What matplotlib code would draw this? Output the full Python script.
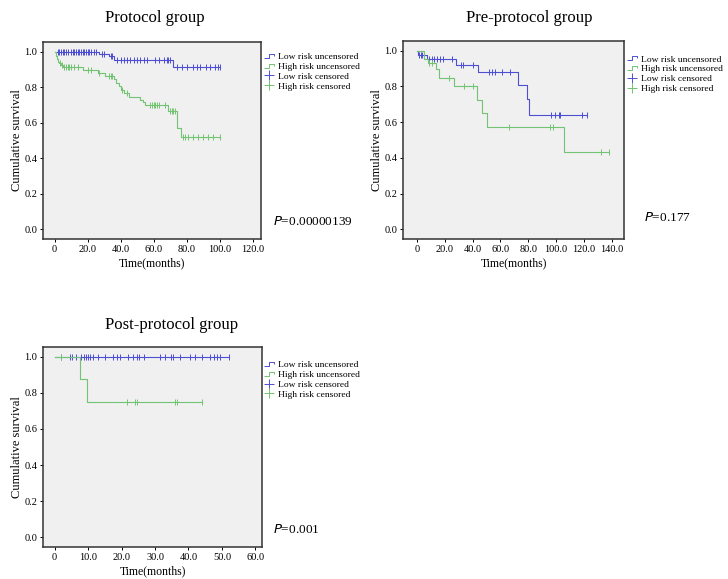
import numpy as np
import matplotlib
matplotlib.use("Agg")
import matplotlib.pyplot as plt
from matplotlib.lines import Line2D
from matplotlib.path import Path

plt.rcParams['font.family'] = ['Liberation Serif', 'DejaVu Serif']

# ---- Protocol group ----
p_low_t = [0, 27, 33, 36, 72]
p_low_s = [1.0, 0.985, 0.975, 0.955, 0.915]
p_low_end = 100
p_low_cens = [2, 3, 4, 5, 6, 7, 8, 10, 11, 12, 13, 14, 15, 16, 17, 18, 19, 20, 21, 22, 24, 25,
              29, 30, 34, 35, 38, 40, 42, 44, 46, 48, 50, 52, 54, 56, 61, 63, 66, 68, 69, 70,
              74, 77, 80, 84, 86, 88, 92, 94, 97, 99, 100]
p_high_t = [0, 1, 1.5, 2, 3, 4, 5, 17, 26.5, 30.5, 36, 37.5, 39, 40.5, 42, 45, 52, 53.5, 55, 69, 74.4, 76.4]
p_high_s = [1.0, 0.975, 0.96, 0.945, 0.935, 0.925, 0.912, 0.897, 0.878, 0.862, 0.845, 0.825,
            0.805, 0.786, 0.765, 0.745, 0.73, 0.715, 0.70, 0.667, 0.57, 0.52]
p_high_end = 100
p_high_cens = [3.5, 4.5, 6, 7, 8, 9, 10, 12, 14, 20, 22, 27, 33, 34, 35, 41, 44, 58, 59, 60, 61,
               62, 63, 67, 70, 71, 72, 73, 78, 79, 81, 84, 87, 90, 93, 96, 100]

# ---- Pre-protocol group ----
pre_low_t = [0, 1, 7, 28, 44, 73, 79.5, 80.5]
pre_low_s = [1.0, 0.974, 0.955, 0.92, 0.88, 0.809, 0.73, 0.64]
pre_low_end = 122
pre_low_cens = [1.6, 2.8, 4, 5.2, 8.5, 11, 12.6, 14.5, 16.5, 18.6, 25.3, 31.5, 33, 40,
                52, 54, 56, 61.5, 67, 96.5, 99, 102, 103, 119, 122]
pre_high_t = [0, 5, 8, 14, 16, 26.5, 43, 47, 50.5, 106]
pre_high_s = [1.0, 0.955, 0.93, 0.90, 0.85, 0.80, 0.725, 0.65, 0.575, 0.43]
pre_high_end = 138
pre_high_cens = [9, 11, 23, 34, 40, 66.5, 96, 98, 132.5, 138]

# ---- Post-protocol group ----
post_low_t = [0]
post_low_s = [1.0]
post_low_end = 52
post_low_cens = [2, 4.5, 5.3, 6.3, 8, 8.7, 9.3, 10, 10.5, 11.5, 13, 15, 17.5, 18.5, 19.5, 22,
                 23.5, 24.7, 25.3, 26.7, 31.5, 33, 34.7, 35.3, 37.5, 40.5, 42, 44, 46.5, 47.5,
                 48.5, 49.5, 52]
post_high_t = [0, 7.5, 9.7]
post_high_s = [1.0, 0.875, 0.75]
post_high_end = 44
post_high_cens = [2, 21.5, 24, 24.5, 36, 36.5, 44]

BLUE = '#4e4ed4'
GREEN = '#72c472'
legend_labels = ['Low risk uncensored', 'High risk uncensored', 'Low risk censored', 'High risk censored']


def step_value(t, s, x):
    idx = np.searchsorted(np.asarray(t), np.asarray(x), side='right') - 1
    return np.asarray(s)[idx]


def km_curve(ax, t, s, end, cens, color):
    xs = list(t) + [end]
    ys = list(s) + [s[-1]]
    ax.step(xs, ys, where='post', color=color, lw=0.8)
    ax.plot(cens, step_value(t, s, cens), ls='none', marker='|', ms=4.5, mew=0.7, color=color)


step_icon = Path([(-1, -0.5), (0, -0.5), (0, 0.5), (1, 0.5), (1, 0.1)],
                 [Path.MOVETO, Path.LINETO, Path.LINETO, Path.LINETO, Path.LINETO])
handles = [
    Line2D([], [], ls='none', marker=step_icon, ms=7, mfc='none', mec=BLUE, mew=0.7),
    Line2D([], [], ls='none', marker=step_icon, ms=7, mfc='none', mec=GREEN, mew=0.7),
    Line2D([], [], ls='none', marker='+', ms=7, mec=BLUE, mew=0.7),
    Line2D([], [], ls='none', marker='+', ms=7, mec=GREEN, mew=0.7),
]


def panel(rect, title, xlim, xticks, curves, pval, leg_anchor, p_pos, title_pos):
    ax = fig.add_axes(rect)
    ax.set_facecolor('#f0f0f0')
    for c in curves:
        km_curve(ax, *c)
    ax.set_xlim(*xlim)
    ax.set_ylim(-0.055, 1.055)
    ax.set_xticks(xticks)
    ax.set_xticklabels(['0'] + ['%.1f' % v for v in xticks[1:]])
    ax.set_yticks([0, 0.2, 0.4, 0.6, 0.8, 1.0])
    ax.set_yticklabels(['0.0', '0.2', '0.4', '0.6', '0.8', '1.0'])
    ax.tick_params(labelsize=7.5, length=2.5, width=0.7, pad=1.5)
    for sp in ax.spines.values():
        sp.set_linewidth(1.1)
        sp.set_color('#333333')
    ax.set_xlabel('Time(months)', fontsize=8.5, labelpad=3)
    ax.set_ylabel('Cumulative survival', fontsize=9, labelpad=1)
    fig.text(title_pos[0], title_pos[1], title, fontsize=12, ha='center', va='center')
    fig.legend(handles, legend_labels, loc='upper left', bbox_to_anchor=leg_anchor,
               frameon=False, fontsize=6.8, handlelength=1.0, handletextpad=0.5,
               labelspacing=0.12, borderpad=0, borderaxespad=0)
    fig.text(p_pos[0], p_pos[1], r'$\it{P}$' + '=' + pval, fontsize=9.5, ha='left', va='center')
    return ax


fig = plt.figure(figsize=(7.28, 5.79), dpi=100)

panel([0.059, 0.5872, 0.2995, 0.3403], 'Protocol group', (-7, 125),
      [0, 20, 40, 60, 80, 100, 120],
      [(p_low_t, p_low_s, p_low_end, p_low_cens, BLUE),
       (p_high_t, p_high_s, p_high_end, p_high_cens, GREEN)],
      '0.00000139', (0.363, 0.909), (0.375, 0.618), (0.212, 0.969))

panel([0.5536, 0.5872, 0.3036, 0.342], 'Pre-protocol group', (-10, 149),
      [0, 20, 40, 60, 80, 100, 120, 140],
      [(pre_low_t, pre_low_s, pre_low_end, pre_low_cens, BLUE),
       (pre_high_t, pre_high_s, pre_high_end, pre_high_cens, GREEN)],
      '0.177', (0.861, 0.905), (0.885, 0.624), (0.727, 0.969))

panel([0.059, 0.0553, 0.301, 0.3454], 'Post-protocol group', (-3.5, 62),
      [0, 10, 20, 30, 40, 50, 60],
      [(post_low_t, post_low_s, post_low_end, post_low_cens, BLUE),
       (post_high_t, post_high_s, post_high_end, post_high_cens, GREEN)],
      '0.001', (0.363, 0.377), (0.375, 0.085), (0.235, 0.439))

fig.savefig('out.png', dpi=100)
